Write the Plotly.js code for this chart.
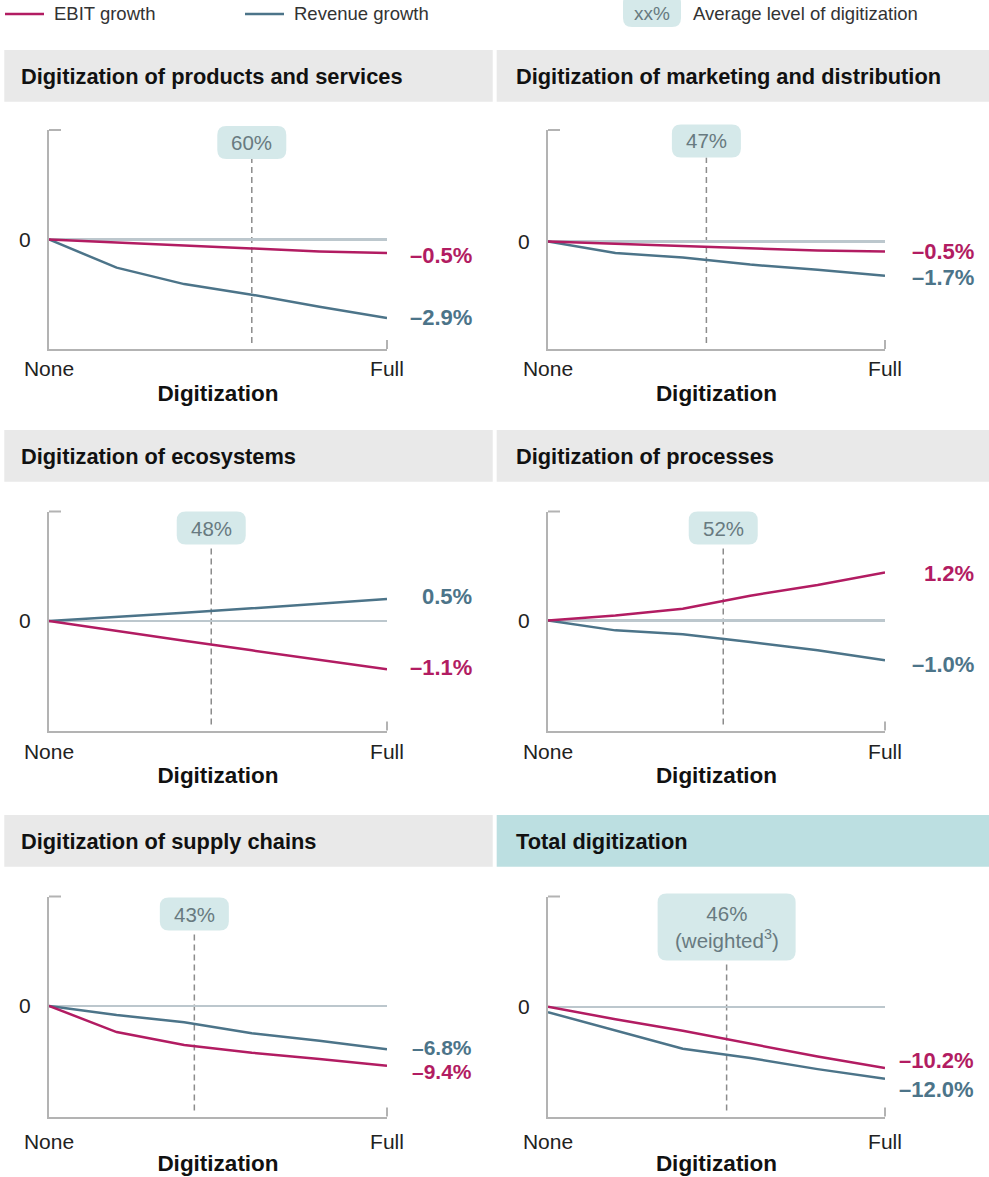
<!DOCTYPE html>
<html>
<head>
<meta charset="utf-8">
<script src="https://cdn.plot.ly/plotly-3.0.1.min.js"></script>
<style>html,body{margin:0;padding:0;background:#fff;}#chart{width:989px;height:1177px;}</style>
</head>
<body>
<div id="chart"></div>
<script>
// ---------- DATA ----------
const digitizationLevels = [0, 0.2, 0.4, 0.6, 0.8, 1.0];
const xTickLabels = ['None', 'Full'];
const panelTitles = [
  'Digitization of products and services',
  'Digitization of marketing and distribution',
  'Digitization of ecosystems',
  'Digitization of processes',
  'Digitization of supply chains',
  'Total digitization'
];
const ebitProducts      = [0, -0.10, -0.22, -0.33, -0.44, -0.5];
const revenueProducts   = [0, -1.04, -1.65, -2.04, -2.49, -2.9];
const ebitMarketing     = [0, -0.11, -0.20, -0.32, -0.45, -0.5];
const revenueMarketing  = [0, -0.57, -0.80, -1.15, -1.40, -1.7];
const ebitEcosystems    = [0, -0.23, -0.45, -0.67, -0.89, -1.1];
const revenueEcosystems = [0, 0.09, 0.19, 0.29, 0.40, 0.5];
const ebitProcesses     = [0, 0.12, 0.29, 0.62, 0.89, 1.2];
const revenueProcesses  = [0, -0.25, -0.35, -0.54, -0.75, -1.0];
const ebitSupply        = [0, -4.10, -6.13, -7.35, -8.33, -9.4];
const revenueSupply     = [0, -1.41, -2.57, -4.30, -5.45, -6.8];
const ebitTotal         = [0, -2.07, -4.00, -6.20, -8.30, -10.2];
const revenueTotal      = [-0.9, -4.00, -7.00, -8.55, -10.40, -12.0];
const ebitEndLabels     = ['–0.5%', '–0.5%', '–1.1%', '1.2%', '–9.4%', '–10.2%'];
const revenueEndLabels  = ['–2.9%', '–1.7%', '0.5%', '–1.0%', '–6.8%', '–12.0%'];
const averageLevels     = [0.60, 0.47, 0.48, 0.52, 0.43, 0.53];
const averageLabels     = ['60%', '47%', '48%', '52%', '43%', '46%<br>(weighted<sup>3</sup>)'];
const legendLabels      = ['EBIT growth', 'Revenue growth', 'xx%', 'Average level of digitization'];
const axisTitle         = 'Digitization';

const ebitSeries    = [ebitProducts, ebitMarketing, ebitEcosystems, ebitProcesses, ebitSupply, ebitTotal];
const revenueSeries = [revenueProducts, revenueMarketing, revenueEcosystems, revenueProcesses, revenueSupply, revenueTotal];

// ---------- STYLE / LAYOUT ----------
const W = 989, H = 1177;
const EBIT_C = '#b21c62', REV_C = '#4c7489';
const AXIS_C = '#b3b3b3', ZERO_C = '#bcc7cd';
const BOX_C = '#d5e9ea', BOX_TXT = '#687a80';
const HEAD_C = '#e9e9e9', HEAD_TOTAL_C = '#bcdfe1';
const FONT = 'Liberation Sans, Arial, Helvetica, sans-serif';

const cols = [[49, 387], [548, 885]];
const rows = [[130, 349], [511.5, 730.5], [896.5, 1116.5]];
const yRanges = [[-4.05, 4.05], [-5.35, 5.55], [-2.5, 2.5], [-2.76, 2.73], [-17.37, 17.2], [-18.3, 18.4]];
const labelRight = [86, 90];
const ebitShift = [-2, 0, 2, -1, -6, 7];
const revShift  = [0, -2, 3, -4, 2, -11];
const labelSize = [22, 22, 22, 22, 21, 22];
const boxTopOffset = [-4, -5.5, 0, 0, 1, -3];
const boxSize = [[69, 33], [69, 33], [69, 33], [69, 33], [69, 33], [138, 67]];
const tickStandoff = [0, 1, 5];
const titleStandoff = [6.5, 6, 4];
const headerRows = [[50, 101.7], [430, 481.7], [815, 866.7]];
const headerCols = [[4.3, 492.7], [496.7, 989]];
const headerTextX = [18.5, 513.5];

const px = x => x / W;
const py = y => 1 - y / H;

const traces = [];
const layout = {
  width: W, height: H,
  margin: {l: 0, r: 0, t: 0, b: 0},
  paper_bgcolor: '#fff', plot_bgcolor: 'rgba(0,0,0,0)',
  showlegend: false,
  font: {family: FONT, color: '#222'},
  shapes: [], annotations: []
};

for (let i = 0; i < 6; i++) {
  const c = i % 2, r = Math.floor(i / 2);
  const [L, R] = cols[c];
  const [T, B] = rows[r];
  const n = i === 0 ? '' : String(i + 1);
  const xa = 'x' + n, ya = 'y' + n;
  const pw = R - L, ph = B - T;

  // header band + title
  layout.shapes.push({type: 'rect', xref: 'paper', yref: 'paper', layer: 'below',
    x0: px(headerCols[c][0]), x1: px(headerCols[c][1]), y0: py(headerRows[r][1]), y1: py(headerRows[r][0]),
    fillcolor: i === 5 ? HEAD_TOTAL_C : HEAD_C, line: {width: 0}});
  layout.annotations.push({xref: 'paper', yref: 'paper', x: px(headerTextX[c]), y: py((headerRows[r][0] + headerRows[r][1]) / 2 + 1),
    xanchor: 'left', yanchor: 'middle', showarrow: false, text: '<b>' + panelTitles[i] + '</b>',
    font: {size: 21.8, color: '#111', family: FONT}});

  layout['xaxis' + n] = {
    domain: [px(L), px(R)], anchor: ya, range: [0, 1], fixedrange: true,
    showgrid: false, zeroline: false, showline: true, linecolor: AXIS_C, linewidth: 2,
    tickvals: [0, 1], ticktext: xTickLabels, ticks: '', ticklabelstandoff: tickStandoff[r],
    tickfont: {size: 21, color: '#222', family: FONT},
    title: {text: '<b>' + axisTitle + '</b>', font: {size: 22.5, color: '#111', family: FONT}, standoff: titleStandoff[r]}
  };
  layout['yaxis' + n] = {
    domain: [py(B), py(T)], anchor: xa, range: yRanges[i], fixedrange: true,
    showgrid: false, zeroline: true, zerolinecolor: ZERO_C, zerolinewidth: 2.5,
    showline: true, linecolor: AXIS_C, linewidth: 2,
    tickvals: [0], ticktext: ['0'], ticks: '', ticklabelstandoff: 12,
    tickfont: {size: 21, color: '#222', family: FONT}
  };

  // axis end ticks
  layout.shapes.push({type: 'line', xref: xa + ' domain', yref: ya + ' domain', x0: 0, x1: 12 / pw, y0: 1, y1: 1,
    line: {color: AXIS_C, width: 2}});
  layout.shapes.push({type: 'line', xref: xa + ' domain', yref: ya + ' domain', x0: 1, x1: 1, y0: 0, y1: 9 / ph,
    line: {color: AXIS_C, width: 2}});

  // average level marker
  const avg = averageLevels[i];
  const [bw, bh] = boxSize[i];
  const yTop = 1 - boxTopOffset[i] / ph;
  const yBot = yTop - bh / ph;
  const hw = (bw / 2) / pw, rx = 9 / pw, ry = 9 / ph;
  const x0 = avg - hw, x1 = avg + hw;
  layout.shapes.push({type: 'line', xref: xa, yref: ya + ' domain', x0: avg, x1: avg, y0: 6 / ph, y1: yBot,
    line: {color: '#8c8c8c', width: 1.5, dash: '6px,4px'}, layer: 'below'});
  layout.shapes.push({type: 'path', xref: xa, yref: ya + ' domain', fillcolor: BOX_C, line: {width: 0}, layer: 'below',
    path: `M ${x0 + rx},${yTop} L ${x1 - rx},${yTop} Q ${x1},${yTop} ${x1},${yTop - ry} L ${x1},${yBot + ry} Q ${x1},${yBot} ${x1 - rx},${yBot} L ${x0 + rx},${yBot} Q ${x0},${yBot} ${x0},${yBot + ry} L ${x0},${yTop - ry} Q ${x0},${yTop} ${x0 + rx},${yTop} Z`});
  layout.annotations.push({xref: xa, yref: ya + ' domain', x: avg, y: (yTop + yBot) / 2, xanchor: 'center', yanchor: 'middle',
    showarrow: false, text: averageLabels[i], font: {size: 20.5, color: BOX_TXT, family: FONT}});

  // series
  traces.push({type: 'scatter', mode: 'lines', x: digitizationLevels, y: revenueSeries[i], xaxis: xa, yaxis: ya,
    name: legendLabels[1], line: {color: REV_C, width: 2.5}, hoverinfo: 'skip'});
  traces.push({type: 'scatter', mode: 'lines', x: digitizationLevels, y: ebitSeries[i], xaxis: xa, yaxis: ya,
    name: legendLabels[0], line: {color: EBIT_C, width: 2.5}, hoverinfo: 'skip'});

  const eb = ebitSeries[i], rv = revenueSeries[i];
  layout.annotations.push({xref: xa + ' domain', yref: ya, x: 1, y: eb[eb.length - 1], xanchor: 'right', yanchor: 'middle',
    xshift: labelRight[c], yshift: ebitShift[i], showarrow: false, borderpad: 0, text: '<b>' + ebitEndLabels[i] + '</b>',
    font: {size: labelSize[i], color: EBIT_C, family: FONT}});
  layout.annotations.push({xref: xa + ' domain', yref: ya, x: 1, y: rv[rv.length - 1], xanchor: 'right', yanchor: 'middle',
    xshift: labelRight[c], yshift: revShift[i], showarrow: false, borderpad: 0, text: '<b>' + revenueEndLabels[i] + '</b>',
    font: {size: labelSize[i], color: REV_C, family: FONT}});
}

// ---------- LEGEND (top) ----------
layout.shapes.push({type: 'line', xref: 'paper', yref: 'paper', x0: px(5), x1: px(44), y0: py(14), y1: py(14), line: {color: EBIT_C, width: 2.5}});
layout.shapes.push({type: 'line', xref: 'paper', yref: 'paper', x0: px(245), x1: px(284), y0: py(14), y1: py(14), line: {color: REV_C, width: 2.5}});
{
  const x0 = px(623), x1 = px(681), yT = py(-6), yB = py(27), rx = 9 / W, ry = 9 / H;
  layout.shapes.push({type: 'path', xref: 'paper', yref: 'paper', fillcolor: BOX_C, line: {width: 0},
    path: `M ${x0 + rx},${yT} L ${x1 - rx},${yT} Q ${x1},${yT} ${x1},${yT - ry} L ${x1},${yB + ry} Q ${x1},${yB} ${x1 - rx},${yB} L ${x0 + rx},${yB} Q ${x0},${yB} ${x0},${yB + ry} L ${x0},${yT - ry} Q ${x0},${yT} ${x0 + rx},${yT} Z`});
}
layout.annotations.push({xref: 'paper', yref: 'paper', x: px(52), y: py(14), xanchor: 'left', yanchor: 'middle', showarrow: false,
  text: legendLabels[0], font: {size: 18.5, color: '#333', family: FONT}});
layout.annotations.push({xref: 'paper', yref: 'paper', x: px(292), y: py(14), xanchor: 'left', yanchor: 'middle', showarrow: false,
  text: legendLabels[1], font: {size: 18.5, color: '#333', family: FONT}});
layout.annotations.push({xref: 'paper', yref: 'paper', x: px(652), y: py(14), xanchor: 'center', yanchor: 'middle', showarrow: false,
  text: legendLabels[2], font: {size: 19, color: BOX_TXT, family: FONT}});
layout.annotations.push({xref: 'paper', yref: 'paper', x: px(691), y: py(14), xanchor: 'left', yanchor: 'middle', showarrow: false,
  text: legendLabels[3], font: {size: 18.5, color: '#333', family: FONT}});

Plotly.newPlot('chart', traces, layout, {displayModeBar: false, staticPlot: true});
</script>
</body>
</html>
